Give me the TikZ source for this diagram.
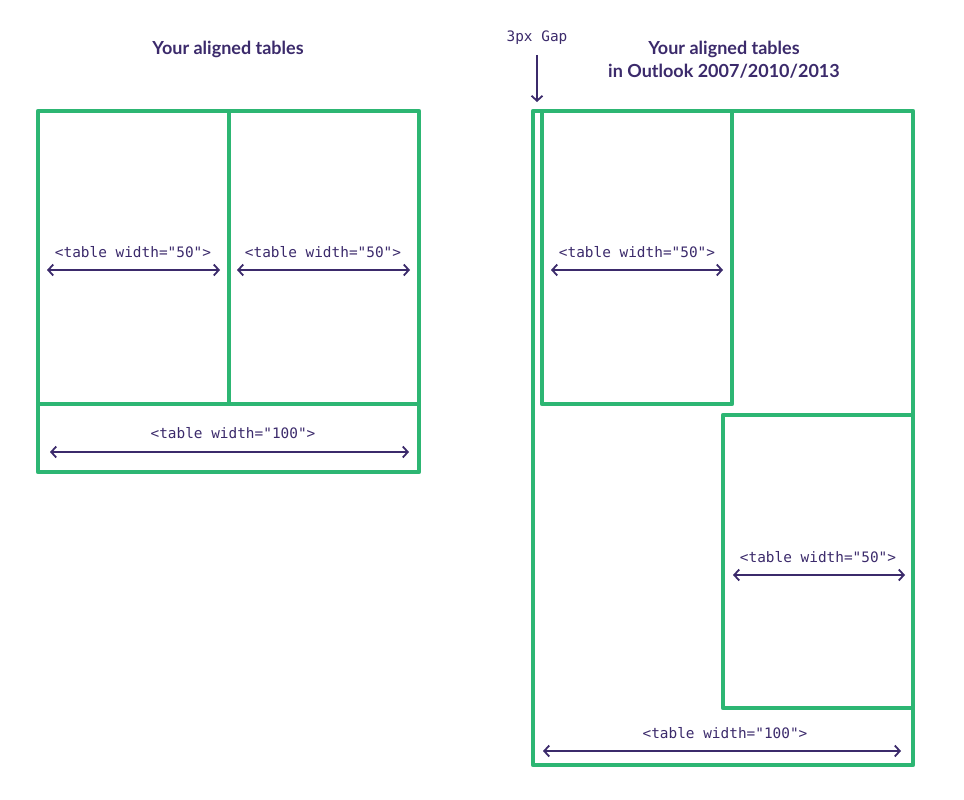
\documentclass[tikz,border=0pt]{standalone}
\usepackage{fontspec}
\setmainfont{Lato}
\setmonofont{DejaVu Sans Mono}
\usepackage{tikz}
\usetikzlibrary{arrows.meta}

\definecolor{tblgreen}{HTML}{2DB673}
\definecolor{inkpurple}{HTML}{3B2A6B}

\tikzset{
  tblline/.style={draw=tblgreen, line width=4.5pt, line join=round},
  widtharrow/.style={draw=inkpurple, line width=1.8pt, {Straight Barb[length=5pt,width=11pt]}-{Straight Barb[length=5pt,width=11pt]}},
  gaparrow/.style={draw=inkpurple, line width=1.8pt, -{Straight Barb[length=5pt,width=11pt]}},
  codelabel/.style={text=inkpurple, font=\ttfamily\fontsize{14.4}{16}\selectfont, inner sep=0pt},
  titlelabel/.style={text=inkpurple, font=\bfseries\fontsize{18}{23}\selectfont, align=center, inner sep=0pt}
}

\begin{document}
\begin{tikzpicture}[x=1pt, y=-1pt]
    \useasboundingbox (0,0) rectangle (964,800);

    % left side
    \node[titlelabel] (lefttitle) at (228, 49) {Your aligned tables};

    \draw[tblline] (38,111) rectangle (419,472);
    \draw[tblline] (229,111) -- (229,404);
    \draw[tblline] (38,404) -- (419,404);

    \coordinate (la1) at (47,270);
    \coordinate (lb1) at (220,270);
    \coordinate (la2) at (237,270);
    \coordinate (lb2) at (410,270);
    \coordinate (la3) at (50,452);
    \coordinate (lb3) at (409,452);

    \node[codelabel] (lcode1) at (133,252) {<table width="50">};
    \node[codelabel] (lcode2) at (323,252) {<table width="50">};
    \node[codelabel] (lcode3) at (233,433) {<table width="100">};

    \draw[widtharrow] (la1) -- (lb1);
    \draw[widtharrow] (la2) -- (lb2);
    \draw[widtharrow] (la3) -- (lb3);

    % right side
    \node[titlelabel] (righttitle) at (724, 60) {Your aligned tables\\in Outlook 2007/2010/2013};

    \draw[tblline] (533,111) rectangle (913,765);
    \draw[tblline] (542,111) rectangle (732,404);
    \draw[tblline] (723,415) rectangle (913,708);

    \node[codelabel] (gaplabel) at (537,38) {3px Gap};
    \coordinate (gaptop) at (537,55);
    \coordinate (gapend) at (537,102);
    \draw[gaparrow] (gaptop) -- (gapend);

    \coordinate (ra1) at (551,270);
    \coordinate (rb1) at (723,270);
    \coordinate (ra2) at (733,575);
    \coordinate (rb2) at (905,575);
    \coordinate (ra3) at (543,751);
    \coordinate (rb3) at (901,751);

    \node[codelabel] (rcode1) at (637,252) {<table width="50">};
    \node[codelabel] (rcode2) at (818,557) {<table width="50">};
    \node[codelabel] (rcode3) at (725,733) {<table width="100">};

    \draw[widtharrow] (ra1) -- (rb1);
    \draw[widtharrow] (ra2) -- (rb2);
    \draw[widtharrow] (ra3) -- (rb3);
\end{tikzpicture}
\end{document}
